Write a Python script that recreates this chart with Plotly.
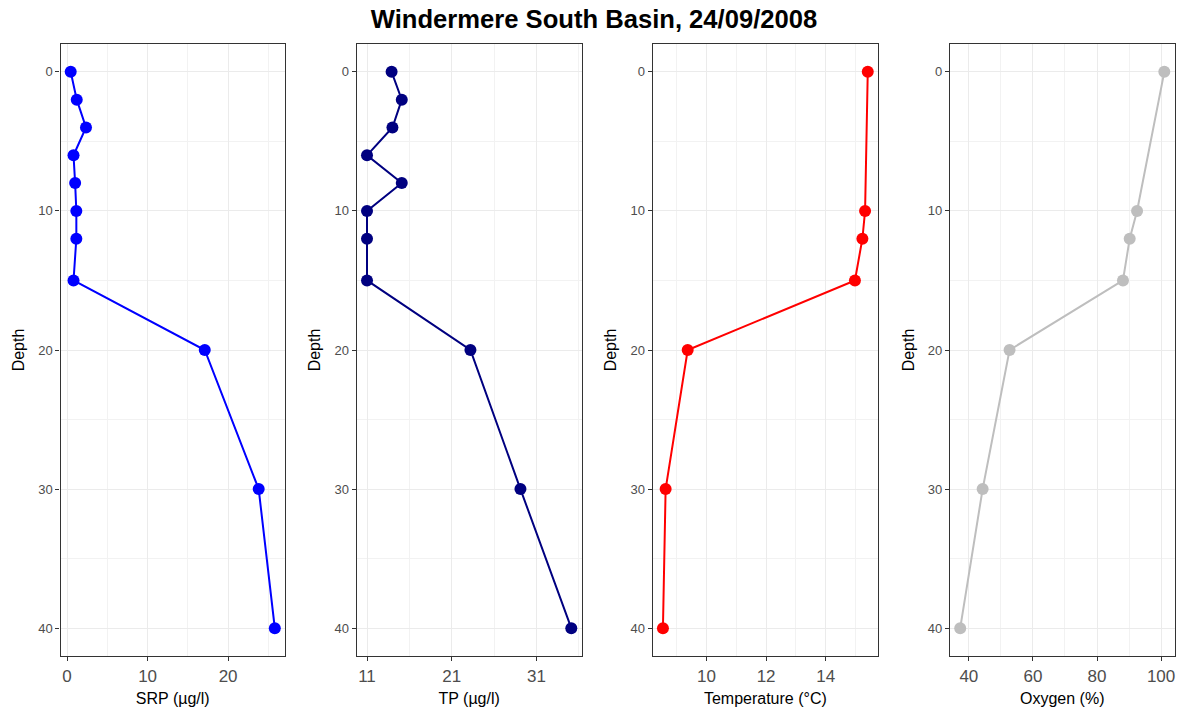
import plotly.graph_objects as go

# ---- data ----
depth = [0, 2, 4, 6, 8, 10, 12, 15, 20, 30, 40]
srp = [0.45, 1.2, 2.35, 0.8, 1.0, 1.15, 1.15, 0.8, 17.1, 23.8, 25.8]
tp = [13.9, 15.1, 14.0, 11.0, 15.1, 11.0, 11.0, 11.0, 23.2, 29.1, 35.1]
temp_depth = [0, 10, 12, 15, 20, 30, 40]
temperature = [15.41, 15.32, 15.23, 14.98, 9.37, 8.63, 8.54]
oxy_depth = [0, 10, 12, 15, 20, 30, 40]
oxygen = [101.0, 92.5, 90.2, 88.1, 52.7, 44.3, 37.3]

depth_ticks = [0, 10, 20, 30, 40]
srp_ticks = [0, 10, 20]
tp_ticks = [11, 21, 31]
temp_ticks = [10, 12, 14]
oxy_ticks = [40, 60, 80, 100]

titles = ["SRP (µg/l)", "TP (µg/l)", "Temperature (°C)", "Oxygen (%)"]
colors = ["#0000FF", "#000080", "#FF0000", "#BEBEBE"]

W, H = 1188, 715
panels = [
    (depth, srp, srp_ticks, 5, 0),
    (depth, tp, tp_ticks, 5, 11),
    (temp_depth, temperature, temp_ticks, 1, 9),
    (oxy_depth, oxygen, oxy_ticks, 10, 30),
]
xdomains = [(60.5, 285), (356.8, 581.5), (652.7, 878), (950, 1174.5)]
ytop, ybot = 44, 656


def expand(vals, f=0.05):
    lo, hi = min(vals), max(vals)
    s = hi - lo
    return [lo - f * s, hi + f * s]


fig = go.Figure()
layout = dict(
    width=W, height=H,
    margin=dict(l=0, r=0, t=0, b=0),
    paper_bgcolor="white", plot_bgcolor="white",
    showlegend=False,
    font=dict(family="Liberation Sans, Arial, sans-serif", color="black"),
    title=dict(text="<b>Windermere South Basin, 24/09/2008</b>",
               x=0.5, xanchor="center", y=1 - 19 / H, yanchor="middle",
               font=dict(size=25.6, color="black")),
)

for i, (yd, xv, xt, mdt, m0) in enumerate(panels):
    n = "" if i == 0 else str(i + 1)
    fig.add_trace(go.Scatter(
        x=xv, y=yd, mode="lines+markers",
        line=dict(color=colors[i], width=2),
        marker=dict(color=colors[i], size=12),
        xaxis="x" + n, yaxis="y" + n, hoverinfo="x+y"))
    x0, x1 = xdomains[i]
    common = dict(showline=True, mirror=True, linecolor="#333333", linewidth=1.3,
                  ticks="outside", ticklen=4, tickcolor="#333333", tickwidth=1,
                  showgrid=True, gridcolor="#EBEBEB", gridwidth=1, zeroline=False)
    layout["xaxis" + n] = dict(
        domain=[x0 / W, x1 / W], anchor="y" + n,
        range=expand(xv), tickvals=xt,
        tickfont=dict(size=17, color="#4D4D4D"),
        title=dict(text=titles[i], font=dict(size=16, color="black"), standoff=8),
        minor=dict(dtick=mdt, tick0=m0, showgrid=True, gridcolor="#F2F2F2",
                   gridwidth=1, ticks=""),
        **common)
    layout["yaxis" + n] = dict(
        domain=[1 - ybot / H, 1 - ytop / H], anchor="x" + n,
        range=[42, -2], tickvals=depth_ticks,
        tickfont=dict(size=13, color="#4D4D4D"),
        title=dict(text="Depth", font=dict(size=16, color="black"), standoff=9),
        minor=dict(dtick=5, tick0=0, showgrid=True, gridcolor="#F2F2F2",
                   gridwidth=1, ticks=""),
        **common)

fig.update_layout(**layout)
fig.write_html("out.html")
